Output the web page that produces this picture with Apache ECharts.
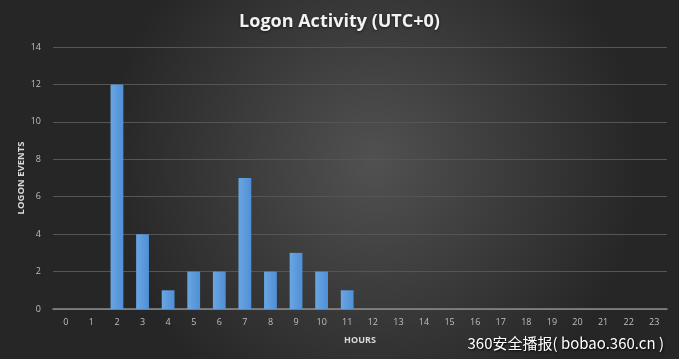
<!DOCTYPE html>
<html><head><meta charset="utf-8">
<script src="https://cdn.jsdelivr.net/npm/echarts@6/dist/echarts.min.js"></script>
<style>html,body{margin:0;padding:0;background:#333;}#c{width:679px;height:359px;}</style>
</head><body><div id="c"></div>
<script>
const hours = ['0','1','2','3','4','5','6','7','8','9','10','11','12','13','14','15','16','17','18','19','20','21','22','23'];
const logonEvents = [0,0,12,4,1,2,2,7,2,3,2,1,0,0,0,0,0,0,0,0,0,0,0,0];
const yTicks = [0,2,4,6,8,10,12,14];
const chart = echarts.init(document.getElementById('c'));
chart.setOption({
  backgroundColor: {type:'radial', x:0.55, y:0.45, r:0.75, colorStops:[{offset:0,color:'#515151'},{offset:1,color:'#262626'}]},
  animation:false,
  title:{text:'Logon Activity (UTC+0)', left:'center', top:8, textStyle:{color:'#f2f2f2', fontFamily:'Open Sans', fontWeight:'bold', fontSize:18, textShadowColor:'rgba(0,0,0,0.6)', textShadowBlur:3, textShadowOffsetY:1}},
  grid:{left:53, right:12, top:47, bottom:50},
  xAxis:{type:'category', data:hours, name:'HOURS', nameLocation:'middle', nameGap:27, nameMoveOverlap:false,
    nameTextStyle:{color:'#d9d9d9', fontWeight:'bold', fontSize:9, fontFamily:'Open Sans'},
    axisLine:{lineStyle:{color:'#8c8c8c', width:1.5}}, axisTick:{show:false},
    axisLabel:{color:'#bfbfbf', fontSize:9, margin:9, fontFamily:'Open Sans'}},
  yAxis:{type:'value', min:0, max:14, interval:2, name:'LOGON EVENTS', nameLocation:'middle', nameGap:27, nameMoveOverlap:false,
    nameTextStyle:{color:'#d9d9d9', fontWeight:'bold', fontSize:9.5, fontFamily:'Open Sans'},
    axisLine:{show:false}, axisTick:{show:false},
    axisLabel:{color:'#bfbfbf', fontSize:9, margin:12, fontFamily:'Open Sans', formatter:v=>yTicks.includes(v)?String(v):''},
    splitLine:{lineStyle:{color:'#555555', width:1}}},
  series:[{type:'bar', data:logonEvents, barWidth:'50%',
    itemStyle:{color:{type:'linear',x:0,y:0,x2:1,y2:0,colorStops:[{offset:0,color:'#6aa6e2'},{offset:1,color:'#4f8fd6'}]}, borderWidth:0}}],
  graphic:[{type:'text', right:15, bottom:8, style:{text:'360安全播报( bobao.360.cn )', fill:'#ffffff', font:'15px "Noto Sans CJK SC"', textShadowColor:'rgba(0,0,0,0.9)', textShadowBlur:2, textShadowOffsetX:1, textShadowOffsetY:1}}]
});
</script></body></html>
